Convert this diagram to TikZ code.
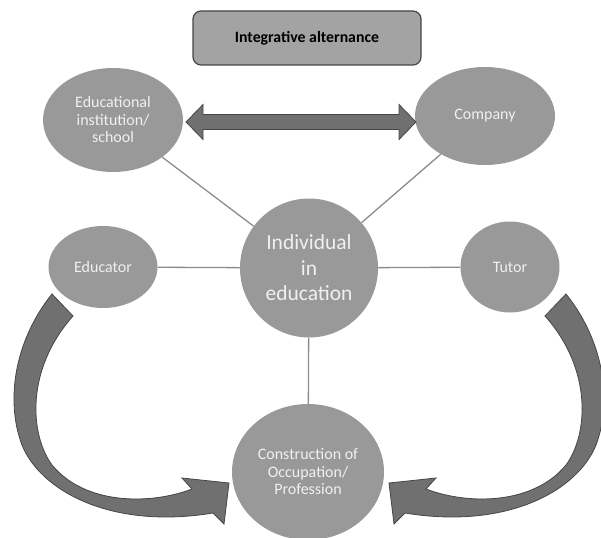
\documentclass[tikz,border=0pt]{standalone}
\usepackage{fontspec}
\setmainfont{Carlito}
\usepackage{tikz}
\usetikzlibrary{shapes.geometric}
\definecolor{bubblegray}{RGB}{153,153,153}
\definecolor{boxgray}{RGB}{163,163,163}
\definecolor{arrowgray}{RGB}{112,112,112}
\definecolor{edgegray}{RGB}{70,70,70}
\definecolor{linkgray}{RGB}{140,140,140}
\definecolor{textlight}{RGB}{240,240,240}

\begin{document}
\begin{tikzpicture}[x=1pt, y=-1pt,
  bubble/.style={ellipse, fill=bubblegray, text=textlight, align=center, inner sep=0pt, font=\fontsize{16}{17.5}\selectfont},
  link/.style={draw=linkgray, line width=1.3pt},
  bigarrow/.style={fill=arrowgray, draw=edgegray, line width=0.8pt, line join=miter}]
\useasboundingbox (0,0) rectangle (601,537);

% Title box
\node[rounded corners=8pt, draw=edgegray, fill=boxgray, line width=1.2pt, minimum width=228pt, minimum height=54pt, font=\fontsize{15.8}{18}\selectfont\bfseries] (title) at (307,38) {Integrative alternance};

% Actors round the individual
\node[bubble, minimum width=140pt, minimum height=104pt] (school) at (113,120) {Educational\\institution/\\school};
\node[bubble, minimum width=140pt, minimum height=98pt] (company) at (485,116) {Company};
\node[bubble, minimum width=138pt, minimum height=139pt, font=\fontsize{21.5}{25.5}\selectfont] (indiv) at (309,268) {Individual\\in\\education};
\node[bubble, minimum width=109pt, minimum height=82pt] (educator) at (103,267) {Educator};
\node[bubble, minimum width=99pt, minimum height=91pt] (tutor) at (510,267) {Tutor};
\node[bubble, minimum width=152pt, minimum height=136pt] (occup) at (308,472) {Construction of\\Occupation/\\Profession};

% Spokes
\draw[link] (indiv) -- (school);
\draw[link] (indiv) -- (company);
\draw[link] (indiv) -- (educator);
\draw[link] (indiv) -- (tutor);
\draw[link] (indiv) -- (occup);

% School <-> company
\coordinate (dl) at (186,122);
\draw[bigarrow] (dl) -- ++(17,-17.5) -- ++(0,10) -- ++(196,0) -- ++(0,-10) -- ++(17,17.5)
  -- ++(-17,17.5) -- ++(0,-10) -- ++(-196,0) -- ++(0,10) -- cycle;

% Curved arrows into the occupation
\draw[bigarrow] (52,294) .. controls (15,340) and (5,400) .. (22,445)
  .. controls (40,490) and (110,530) .. (213,513)
  -- (224,524) -- (229,483) -- (182,478) -- (192,489)
  .. controls (150,505) and (85,505) .. (52,465)
  .. controls (30,435) and (25,370) .. (73,316) -- cycle;
\begin{scope}[xshift=618pt, xscale=-1]
\draw[bigarrow] (52,294) .. controls (15,340) and (5,400) .. (22,445)
  .. controls (40,490) and (110,530) .. (213,513)
  -- (224,524) -- (229,483) -- (182,478) -- (192,489)
  .. controls (150,505) and (85,505) .. (52,465)
  .. controls (30,435) and (25,370) .. (73,316) -- cycle;
\end{scope}
\end{tikzpicture}
\end{document}
